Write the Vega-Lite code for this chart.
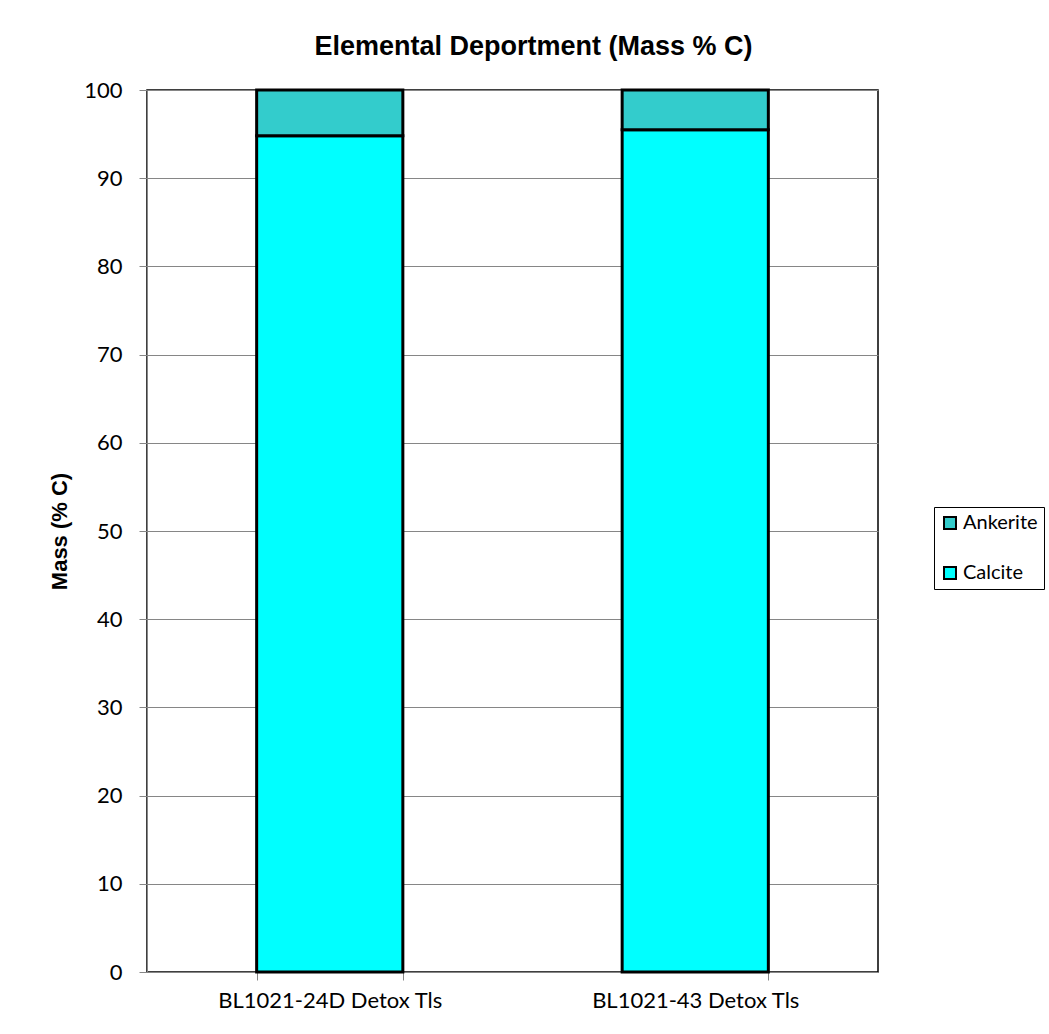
{
  "$schema": "https://vega.github.io/schema/vega-lite/v6.json",
  "autosize": {"type": "none"},
  "width": 731,
  "height": 882,
  "padding": {"left": 147, "top": 90, "right": 171, "bottom": 62},
  "background": "white",
  "title": {
    "text": "Elemental Deportment (Mass % C)",
    "font": "Liberation Sans",
    "fontSize": 27,
    "fontWeight": "bold",
    "color": "black",
    "anchor": "middle",
    "offset": 18,
    "dx": 21
  },
  "data": {
    "values": [
      {"sample": "BL1021-24D Detox Tls", "mineral": "Calcite", "mass": 94.8},
      {"sample": "BL1021-24D Detox Tls", "mineral": "Ankerite", "mass": 5.2},
      {"sample": "BL1021-43 Detox Tls", "mineral": "Calcite", "mass": 95.5},
      {"sample": "BL1021-43 Detox Tls", "mineral": "Ankerite", "mass": 4.5}
    ]
  },
  "mark": {"type": "bar", "stroke": "black", "strokeWidth": 3},
  "encoding": {
    "x": {
      "field": "sample",
      "type": "nominal",
      "sort": null,
      "scale": {"paddingInner": 0.6, "paddingOuter": 0.3},
      "axis": {
        "title": null,
        "labelAngle": 0,
        "labelFont": "Lato",
        "labelFontSize": 22,
        "labelColor": "black",
        "labelPadding": 10,
        "labelLimit": 500,
        "tickBand": "extent",
        "tickSize": 8,
        "tickColor": "#868686",
        "domainColor": "#868686",
        "domainWidth": 1,
        "grid": false
      }
    },
    "y": {
      "field": "mass",
      "type": "quantitative",
      "stack": "zero",
      "scale": {"domain": [0, 100], "nice": false},
      "axis": {
        "title": "Mass (% C)",
        "titleFont": "Liberation Sans",
        "titleFontSize": 22,
        "titleFontWeight": "bold",
        "titleColor": "black",
        "titlePadding": 12,
        "values": [0, 10, 20, 30, 40, 50, 60, 70, 80, 90, 100],
        "labelFont": "Lato",
        "labelFontSize": 22,
        "labelColor": "black",
        "labelPadding": 17,
        "tickSize": 8,
        "tickColor": "#868686",
        "domainColor": "#868686",
        "grid": true,
        "gridColor": "#868686",
        "gridWidth": 1
      }
    },
    "color": {
      "field": "mineral",
      "type": "nominal",
      "scale": {"domain": ["Ankerite", "Calcite"], "range": ["#33CCCC", "#00FFFF"]},
      "legend": {
        "title": null,
        "orient": "none",
        "legendX": 787,
        "legendY": 417,
        "direction": "vertical",
        "symbolType": "square",
        "symbolSize": 144,
        "symbolStrokeColor": "black",
        "symbolStrokeWidth": 2,
        "labelFont": "Lato",
        "labelFontSize": 20,
        "labelColor": "black",
        "labelOffset": 3,
        "labelLimit": 200,
        "rowPadding": 30,
        "padding": 6,
        "strokeColor": "black",
        "fillColor": "white"
      }
    },
    "order": {"field": "mineral", "sort": "descending"}
  },
  "config": {
    "view": {"stroke": "black", "strokeWidth": 1.5}
  }
}
